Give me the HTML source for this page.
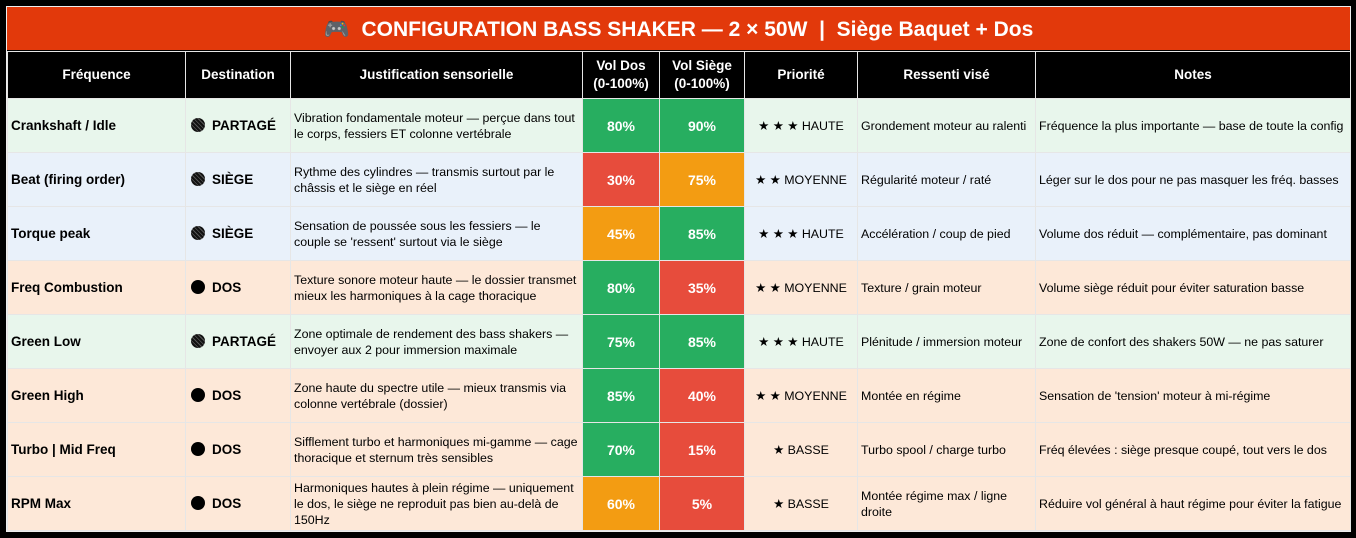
<!DOCTYPE html>
<html><head><meta charset="utf-8"><style>
body{margin:0;background:#000;width:1356px;height:538px;overflow:hidden;font-family:"Liberation Sans",Arial,sans-serif}
.wrap{position:absolute;left:6px;top:6px;width:1343px;border:1px solid #eee;background:#000}
.title{height:43px;background:#e2390b;color:#fff;font-weight:bold;font-size:21px;text-align:center;line-height:45px}
table{border-collapse:collapse;table-layout:fixed;width:1343px;margin-top:1px}
td,th{border:1px solid #e6e6e6;padding:0 3px;font-size:12.4px;color:#000;overflow:hidden}
th{background:#000;color:#fff;font-size:13.5px;height:46px;text-align:center;line-height:18px}
td{height:53px;line-height:16px}
tr.g td{background:#e8f6ec}tr.b td{background:#e9f1fa}tr.p td{background:#fde8d8}
td.f{font-weight:bold;font-size:13.5px}
td.d{font-weight:bold;font-size:13.5px;padding-left:5px}
.dot{display:inline-block;width:14px;height:14px;border-radius:50%;background:#000;vertical-align:-2px;margin-right:7px}
.dot.h{background:repeating-linear-gradient(45deg,#111 0 2px,#555 2px 3px)}
td.v{color:#fff!important;font-weight:bold;font-size:14px;text-align:center}
tr td.G{background:#27ae60}tr td.R{background:#e74c3c}tr td.O{background:#f39c12}
td.pr{text-align:center}
</style></head><body><div class="wrap">
<div class="title">🎮&nbsp; CONFIGURATION BASS SHAKER — 2 × 50W &nbsp;|&nbsp; Siège Baquet + Dos</div>
<table>
<colgroup><col style="width:178px"><col style="width:105px"><col style="width:292px"><col style="width:77px"><col style="width:85px"><col style="width:113px"><col style="width:178px"><col style="width:315px"></colgroup>
<tr><th>Fréquence</th><th>Destination</th><th>Justification sensorielle</th><th>Vol Dos<br>(0-100%)</th><th>Vol Siège<br>(0-100%)</th><th>Priorité</th><th>Ressenti visé</th><th>Notes</th></tr>
<tr class="g"><td class="f">Crankshaft / Idle</td><td class="d"><span class="dot h"></span>PARTAGÉ</td><td>Vibration fondamentale moteur — perçue dans tout le corps, fessiers ET colonne vertébrale</td><td class="v G">80%</td><td class="v G">90%</td><td class="pr">★ ★ ★ HAUTE</td><td>Grondement moteur au ralenti</td><td>Fréquence la plus importante — base de toute la config</td></tr>
<tr class="b"><td class="f">Beat (firing order)</td><td class="d"><span class="dot h"></span>SIÈGE</td><td>Rythme des cylindres — transmis surtout par le châssis et le siège en réel</td><td class="v R">30%</td><td class="v O">75%</td><td class="pr">★ ★ MOYENNE</td><td>Régularité moteur / raté</td><td>Léger sur le dos pour ne pas masquer les fréq. basses</td></tr>
<tr class="b"><td class="f">Torque peak</td><td class="d"><span class="dot h"></span>SIÈGE</td><td>Sensation de poussée sous les fessiers — le couple se 'ressent' surtout via le siège</td><td class="v O">45%</td><td class="v G">85%</td><td class="pr">★ ★ ★ HAUTE</td><td>Accélération / coup de pied</td><td>Volume dos réduit — complémentaire, pas dominant</td></tr>
<tr class="p"><td class="f">Freq Combustion</td><td class="d"><span class="dot"></span>DOS</td><td>Texture sonore moteur haute — le dossier transmet mieux les harmoniques à la cage thoracique</td><td class="v G">80%</td><td class="v R">35%</td><td class="pr">★ ★ MOYENNE</td><td>Texture / grain moteur</td><td>Volume siège réduit pour éviter saturation basse</td></tr>
<tr class="g"><td class="f">Green Low</td><td class="d"><span class="dot h"></span>PARTAGÉ</td><td>Zone optimale de rendement des bass shakers — envoyer aux 2 pour immersion maximale</td><td class="v G">75%</td><td class="v G">85%</td><td class="pr">★ ★ ★ HAUTE</td><td>Plénitude / immersion moteur</td><td>Zone de confort des shakers 50W — ne pas saturer</td></tr>
<tr class="p"><td class="f">Green High</td><td class="d"><span class="dot"></span>DOS</td><td>Zone haute du spectre utile — mieux transmis via colonne vertébrale (dossier)</td><td class="v G">85%</td><td class="v R">40%</td><td class="pr">★ ★ MOYENNE</td><td>Montée en régime</td><td>Sensation de 'tension' moteur à mi-régime</td></tr>
<tr class="p"><td class="f">Turbo | Mid Freq</td><td class="d"><span class="dot"></span>DOS</td><td>Sifflement turbo et harmoniques mi-gamme — cage thoracique et sternum très sensibles</td><td class="v G">70%</td><td class="v R">15%</td><td class="pr">★ BASSE</td><td>Turbo spool / charge turbo</td><td>Fréq élevées : siège presque coupé, tout vers le dos</td></tr>
<tr class="p"><td class="f">RPM Max</td><td class="d"><span class="dot"></span>DOS</td><td>Harmoniques hautes à plein régime — uniquement le dos, le siège ne reproduit pas bien au-delà de 150Hz</td><td class="v O">60%</td><td class="v R">5%</td><td class="pr">★ BASSE</td><td>Montée régime max / ligne droite</td><td>Réduire vol général à haut régime pour éviter la fatigue</td></tr>
</table></div></body></html>
